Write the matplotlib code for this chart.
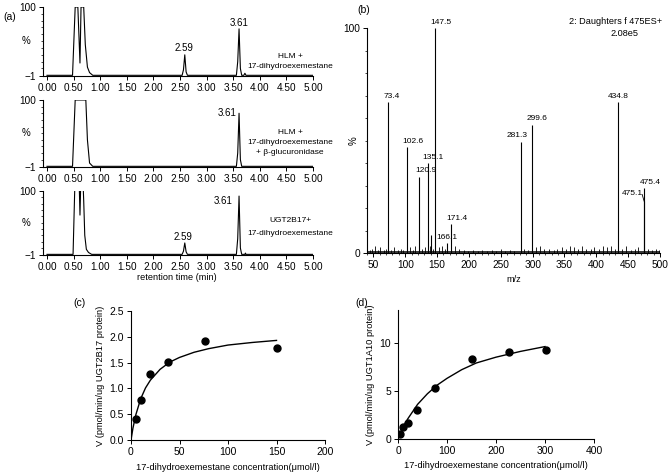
import matplotlib
matplotlib.use('Agg')
import matplotlib.pyplot as plt

plt.rcParams['font.family'] = ['Liberation Sans', 'DejaVu Sans']
plt.rcParams['font.size'] = 6.6

W, H = 672, 476

# (a) chromatograms: retention time (min) vs relative intensity (%)
t_hlm = [0.0, 0.48, 0.50, 0.53, 0.58, 0.62, 0.64, 0.69, 0.72, 0.76, 0.80, 0.86,
         2.54, 2.565, 2.59, 2.615, 2.64, 3.56, 3.585, 3.61, 3.635, 3.66,
         3.70, 3.72, 3.74, 5.0]
i_hlm = [0, 0, 40, 100, 100, 18, 100, 100, 45, 12, 4, 0,
         0, 8, 30, 5, 0, 0, 20, 68, 10, 0,
         0, 3, 0, 0]
t_gluc = [0.0, 0.48, 0.53, 0.73, 0.76, 0.80, 0.86, 3.56, 3.585, 3.61, 3.635, 3.66, 5.0]
i_gluc = [0, 0, 100, 100, 40, 5, 0, 0, 20, 80, 10, 0, 0]
t_ugt = [0.0, 0.49, 0.53, 0.60, 0.62, 0.64, 0.67, 0.69, 0.71, 0.74, 0.78, 0.84,
         2.54, 2.565, 2.59, 2.615, 2.64, 3.56, 3.585, 3.61, 3.635, 3.66,
         3.72, 3.73, 3.74, 5.0]
i_ugt = [0, 0, 130, 130, 62, 130, 130, 85, 30, 8, 3, 0,
         0, 5, 18, 4, 0, 0, 25, 92, 10, 0,
         0, 2, 0, 0]
rt_ticks = [0.0, 0.5, 1.0, 1.5, 2.0, 2.5, 3.0, 3.5, 4.0, 4.5, 5.0]
rt_labels = ['0.00', '0.50', '1.00', '1.50', '2.00', '2.50', '3.00', '3.50', '4.00', '4.50', '5.00']

# (b) product ion spectrum
mz = [73.4, 102.6, 120.9, 135.1, 141.0, 147.5, 166.1, 171.4, 281.3, 299.6, 434.8, 475.1, 475.4]
rel = [67, 47, 34, 40, 8, 100, 4.5, 13, 49.5, 57, 67, 23, 29]
mz_labels = ['73.4', '102.6', '120.9', '135.1', '', '147.5', '166.1', '171.4',
             '281.3', '299.6', '434.8', '475.1', '475.4']
noise_mz = [44, 48, 53, 57, 61, 66, 70, 78, 83, 88, 93, 97, 107, 112, 116, 126, 131, 139, 144, 153,
            158, 163, 178, 185, 192, 199, 207, 214, 221, 229, 236, 243, 250, 257, 264, 271, 287, 293,
            306, 312, 318, 326, 333, 339, 346, 352, 359, 365, 371, 378, 384, 391, 397, 404, 410, 417,
            423, 429, 441, 447, 454, 460, 466, 481, 487, 493, 498]
noise_h = [1.5, 2, 3, 1.5, 2.5, 1.5, 2, 1.5, 2.5, 1.5, 2, 1.5, 2.5, 1.5, 3, 2, 2.5, 3, 2, 2.5,
           3, 2, 3, 2, 1.5, 1, 1.5, 1, 1.5, 1, 1.5, 1, 2, 1, 1.5, 1, 2, 1.5,
           2.5, 3, 2, 2, 1.5, 2, 2.5, 2, 3, 2.5, 2, 3, 2, 2, 2.5, 2, 3, 2.5,
           3, 2, 2, 3, 1.5, 2, 2.5, 2, 1.5, 2, 1.5]

# (c) UGT2B17 kinetics
conc_c = [5, 10, 20, 38, 76, 151]
v_c = [0.41, 0.78, 1.28, 1.52, 1.91, 1.78]
fit_xc = [0, 2, 5, 10, 15, 20, 30, 40, 50, 65, 80, 100, 125, 150]
fit_yc = [0, 0.23, 0.49, 0.80, 1.01, 1.16, 1.37, 1.51, 1.60, 1.70, 1.77, 1.84, 1.89, 1.93]

# (d) UGT1A10 kinetics
conc_d = [5, 10, 20, 38, 76, 152, 227, 302]
v_d = [0.5, 1.2, 1.7, 3.0, 5.3, 8.3, 9.0, 9.2]
fit_xd = [5, 10, 20, 40, 60, 80, 100, 130, 160, 200, 250, 300]
fit_yd = [0.6, 1.2, 2.1, 3.6, 4.7, 5.6, 6.3, 7.2, 7.9, 8.5, 9.1, 9.6]


def rect(l, t, r, b):
    return [l / W, 1 - b / H, (r - l) / W, (b - t) / H]


def ftext(x, y, s, **kw):
    fig.text(x / W, 1 - y / H, s, **kw)


def clean(ax, size):
    ax.spines['top'].set_visible(False)
    ax.spines['right'].set_visible(False)
    ax.tick_params(length=3, width=0.7, pad=2, labelsize=size)
    for s in ax.spines.values():
        s.set_linewidth(0.8)


fig = plt.figure(figsize=(W / 100, H / 100), dpi=100)

# ---- (a)
chroms = [(t_hlm, i_hlm, 7, 76), (t_gluc, i_gluc, 100, 167), (t_ugt, i_ugt, 191, 255)]
for t, i, top, bot in chroms:
    ax = fig.add_axes(rect(43, top, 313, bot))
    ax.plot(t, i, color='black', lw=0.8)
    ax.set_xlim(-0.075, 5.0)
    ax.set_ylim(-1, 100)
    ax.set_xticks(rt_ticks)
    ax.set_xticklabels(rt_labels)
    ax.set_yticks([-1, 100])
    ax.set_yticklabels(['\u22121', '100'])
    ax.set_yticks(range(10, 100, 10), minor=True)
    ax.tick_params(axis='y', which='minor', length=1.5, width=0.5)
    clean(ax, 7.2)
    ax.text(-0.045, 0.5, '%', transform=ax.transAxes, ha='right', va='center', fontsize=7)

ftext(10, 17, '(a)', ha='center', va='center', fontsize=7.5)
ftext(184, 48, '2.59', ha='center', va='center', fontsize=7)
ftext(239, 23, '3.61', ha='center', va='center', fontsize=7)
ftext(290, 56, 'HLM +', ha='center', va='center', fontsize=6)
ftext(290, 67, '17-dihydroexemestane', ha='center', va='center', fontsize=6)
ftext(227, 113, '3.61', ha='center', va='center', fontsize=7)
ftext(290, 132, 'HLM +', ha='center', va='center', fontsize=6)
ftext(290, 142, '17-dihydroexemestane', ha='center', va='center', fontsize=6)
ftext(290, 152, '+ \u03b2-glucuronidase', ha='center', va='center', fontsize=6)
ftext(223, 201, '3.61', ha='center', va='center', fontsize=7)
ftext(183, 237, '2.59', ha='center', va='center', fontsize=7)
ftext(290, 220, 'UGT2B17+', ha='center', va='center', fontsize=6)
ftext(290, 233, '17-dihydroexemestane', ha='center', va='center', fontsize=6)
ftext(177, 278, 'retention time (min)', ha='center', va='center')

# ---- (b)
axb = fig.add_axes(rect(367, 28, 660, 253))
axb.vlines(noise_mz, 0, noise_h, color='black', lw=0.6)
axb.plot([40, 500], [0.6, 0.6], color='black', lw=1.1)
axb.vlines(mz, 0, rel, color='black', lw=0.8)
axb.set_xlim(40, 500)
axb.set_ylim(0, 100)
axb.set_xticks(range(50, 501, 50))
axb.set_xticks(range(40, 501, 10), minor=True)
axb.set_yticks([0, 100])
axb.set_yticks(range(10, 100, 10), minor=True)
axb.tick_params(which='minor', length=1.5, width=0.5)
clean(axb, 7.3)
label_dx = [6, 9, 12, 9, 0, 8, 0, 9, -6, 8, 0, -19, 9]
label_dy = [1, 1, 1, 1, 0, 1, 1, 1, 1, 1, 1, 2, 1]
for m, r, lab, dx, dy in zip(mz, rel, mz_labels, label_dx, label_dy):
    if lab:
        axb.text(m + dx, r + dy, lab, ha='center', va='bottom', fontsize=6)
axb.plot([472, 475.1], [26, 23], color='black', lw=0.6)
axb.set_xlabel('m/z', labelpad=4)
axb.set_ylabel('%', fontsize=7)
axb.yaxis.set_label_coords(-0.03, 0.5)
ftext(364, 10, '(b)', ha='center', va='center', fontsize=7.5)
ftext(616, 22, '2: Daughters f 475ES+', ha='center', va='center', fontsize=6.6)
ftext(624, 33, '2.08e5', ha='center', va='center', fontsize=6.6)

# ---- (c)
axc = fig.add_axes(rect(131, 311, 325, 440))
axc.plot(fit_xc, fit_yc, color='black', lw=1.0)
axc.plot(conc_c, v_c, 'o', color='black', markersize=5)
axc.set_xlim(0, 200)
axc.set_ylim(0, 2.5)
axc.set_xticks([0, 50, 100, 150, 200])
axc.set_yticks([0.0, 0.5, 1.0, 1.5, 2.0, 2.5])
axc.set_yticklabels(['0.0', '0.5', '1.0', '1.5', '2.0', '2.5'])
clean(axc, 7.5)
axc.set_xlabel('17-dihydroexemestane concentration(\u03bcmol/l)', labelpad=4, fontsize=6.7)
axc.set_ylabel('V (pmol/min/ug UGT2B17 protein)', labelpad=3, fontsize=6.7)
ftext(80, 303, '(c)', ha='center', va='center', fontsize=7.5)

# ---- (d)
axd = fig.add_axes(rect(398, 310, 594, 439))
axd.plot(fit_xd, fit_yd, color='black', lw=1.0)
axd.plot(conc_d, v_d, 'o', color='black', markersize=5)
axd.set_xlim(0, 400)
axd.set_ylim(0, 13.4)
axd.set_xticks([0, 100, 200, 300, 400])
axd.set_yticks([0, 5, 10])
clean(axd, 7.5)
axd.set_xlabel('17-dihydroexemestane concentration(\u03bcmol/l)', labelpad=4, fontsize=6.7)
axd.set_ylabel('V (pmol/min/ug UGT1A10 protein)', labelpad=3, fontsize=6.7)
ftext(362, 303, '(d)', ha='center', va='center', fontsize=7.5)

fig.savefig('out.png', dpi=100)
